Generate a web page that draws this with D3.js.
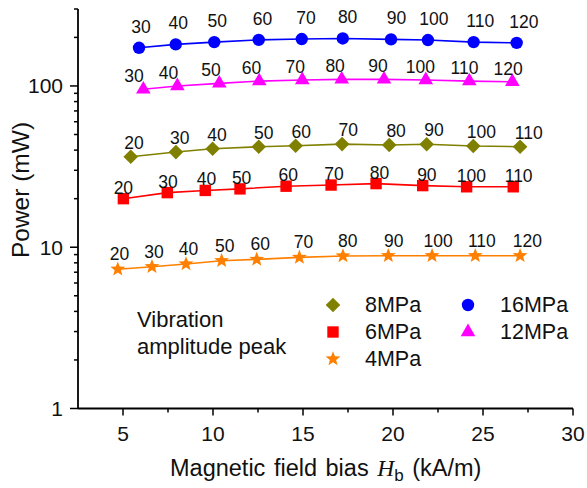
<!DOCTYPE html>
<html>
<head>
<meta charset="utf-8">
<script src="https://cdn.jsdelivr.net/npm/d3@7"></script>
<style>
html,body{margin:0;padding:0;background:#fff;}
svg{display:block;font-family:"Liberation Sans",Arial,sans-serif;}
</style>
</head>
<body>
<svg id="chart" width="587" height="488"></svg>
<script>
// ---- data ----
const xTicks = [5, 10, 15, 20, 25, 30];
const yTicks = [1, 10, 100];

const x16 = [5.89, 7.93, 10.07, 12.54, 14.93, 17.21, 19.89, 21.94, 24.48, 26.87];
const p16 = [172.5, 181, 187, 193, 195.4, 197, 194.5, 192.6, 187, 185];
const l16 = [30, 40, 50, 60, 70, 80, 90, 100, 110, 120];

const x12 = [6.13, 8.02, 10.35, 12.57, 14.96, 17.15, 19.5, 21.82, 24.24, 26.63];
const p12 = [95.3, 100, 103.8, 107.2, 108.8, 109.9, 109.9, 108.8, 107.2, 106.2];
const l12 = [30, 40, 50, 60, 70, 80, 90, 100, 110, 120];

const x8 = [5.43, 7.94, 9.98, 12.54, 14.59, 17.17, 19.79, 21.87, 24.46, 27.06];
const p8 = [36.4, 38.9, 40.8, 42.0, 42.6, 43.6, 43.0, 43.5, 42.4, 42.0];
const l8 = [20, 30, 40, 50, 60, 70, 80, 90, 100, 110];

const x6 = [5.02, 7.46, 9.57, 11.5, 14.06, 16.56, 19.06, 21.65, 24.09, 26.68];
const p6 = [20.0, 21.8, 22.5, 23.0, 23.9, 24.3, 24.8, 24.1, 23.7, 23.7];
const l6 = [20, 30, 40, 50, 60, 70, 80, 90, 100, 110];

const x4 = [4.71, 6.61, 8.5, 10.48, 12.43, 14.8, 17.22, 19.74, 22.17, 24.57, 27.06];
const p4 = [7.30, 7.57, 7.87, 8.25, 8.41, 8.65, 8.82, 8.86, 8.86, 8.86, 8.86];
const l4 = [20, 30, 40, 50, 60, 70, 80, 90, 100, 110, 120];

// ---- symbols ----
function circlePath(r){return `M${r},0A${r},${r},0,1,1,${-r},0A${r},${r},0,1,1,${r},0Z`;}
function squarePath(r){return `M${-r},${-r}H${r}V${r}H${-r}Z`;}
function diamondPath(r){return `M0,${-r}L${r},0L0,${r}L${-r},0Z`;}
function trianglePath(r){const h=r*Math.sqrt(3);return `M0,${-h*2/3}L${r},${h/3}L${-r},${h/3}Z`;}
function starPath(r){
  const ri=r*0.42; let s="";
  for(let i=0;i<10;i++){const a=-Math.PI/2+i*Math.PI/5;const rr=i%2?ri:r;
    s+=(i?"L":"M")+(rr*Math.cos(a)).toFixed(2)+","+(rr*Math.sin(a)).toFixed(2);}
  return s+"Z";
}

const series = [
  {name:"16MPa", xs:x16, ys:p16, labels:l16, color:"#0000FF", sym:()=>circlePath(6.2), dx:1.8, dy:-15},
  {name:"12MPa", xs:x12, ys:p12, labels:l12, color:"#FF00FF", sym:()=>trianglePath(7.3), dx:-9.6, dy:-7},
  {name:"8MPa",  xs:x8,  ys:p8,  labels:l8,  color:"#808000", sym:()=>diamondPath(7.3), dx:3.2, dy:-8},
  {name:"6MPa",  xs:x6,  ys:p6,  labels:l6,  color:"#FF0000", sym:()=>squarePath(5.7), dx:0, dy:-5},
  {name:"4MPa",  xs:x4,  ys:p4,  labels:l4,  color:"#FF8000", sym:()=>starPath(7.8), dx:1.7, dy:-9}
];

// ---- scales ----
const svg = d3.select("#chart");
const x = d3.scaleLinear().domain([2.5, 30]).range([78, 573]);
const y = d3.scaleLog().domain([1, 300]).range([408.5, 9]);

const axisColor = "#000";
const textColor = "#111";

// x axis
const gx = svg.append("g").attr("transform","translate(0,408.5)");
gx.append("line").attr("x1",x(2.5)).attr("x2",x(30)).attr("stroke",axisColor).attr("stroke-width",1.8);
const xMinor = d3.range(7.5, 30, 5);
gx.selectAll(".xmin").data(xMinor).join("line")
  .attr("x1",d=>x(d)).attr("x2",d=>x(d)).attr("y1",0).attr("y2",4)
  .attr("stroke",axisColor).attr("stroke-width",1.5);
gx.selectAll(".xmaj").data(xTicks).join("line")
  .attr("x1",d=>x(d)).attr("x2",d=>x(d)).attr("y1",0).attr("y2",7)
  .attr("stroke",axisColor).attr("stroke-width",1.5);
gx.selectAll(".xlab").data(xTicks).join("text")
  .attr("x",d=>x(d)).attr("y",32).attr("text-anchor","middle")
  .attr("font-size",21).attr("fill",textColor).text(d=>d);

// y axis
const gy = svg.append("g").attr("transform","translate(78,0)");
gy.append("line").attr("y1",y(1)).attr("y2",y(300)).attr("stroke",axisColor).attr("stroke-width",1.8);
const yMinor = [];
[1,10,100].forEach(dec=>{for(let k=2;k<=9;k++){const v=dec*k; if(v<=300) yMinor.push(v);}});
gy.selectAll(".ymin").data(yMinor).join("line")
  .attr("x1",-4).attr("x2",0).attr("y1",d=>y(d)).attr("y2",d=>y(d))
  .attr("stroke",axisColor).attr("stroke-width",1.5);
gy.selectAll(".ymaj").data(yTicks).join("line")
  .attr("x1",-8).attr("x2",0).attr("y1",d=>y(d)).attr("y2",d=>y(d))
  .attr("stroke",axisColor).attr("stroke-width",1.5);
gy.selectAll(".ylab").data(yTicks).join("text")
  .attr("x",-15).attr("y",d=>y(d)+7.5).attr("text-anchor","end")
  .attr("font-size",21).attr("fill",textColor).text(d=>d);

// axis titles
const xt = svg.append("text").attr("x",170).attr("y",476).attr("text-anchor","start")
  .attr("font-size",23.5).attr("fill",textColor).style("word-spacing","2px");
xt.append("tspan").text("Magnetic field bias ");
xt.append("tspan").attr("font-family","'Liberation Serif','Times New Roman',serif").attr("font-style","italic").text("H");
xt.append("tspan").attr("font-size",17).attr("dy",5).text("b");
xt.append("tspan").attr("dy",-5).text(" (kA/m)");

svg.append("text").attr("transform","translate(29,190) rotate(-90)")
  .attr("text-anchor","middle").attr("font-size",24.5).attr("fill",textColor).text("Power (mW)");

// series
const line = d3.line().x(d=>x(d[0])).y(d=>y(d[1]));
series.forEach(s=>{
  const pts = s.xs.map((v,i)=>[v, s.ys[i], s.labels[i]]);
  const g = svg.append("g");
  g.append("path").datum(pts).attr("d",line).attr("fill","none")
    .attr("stroke",s.color).attr("stroke-width",1.6);
  g.selectAll("path.m").data(pts).join("path").attr("class","m")
    .attr("transform",d=>`translate(${x(d[0])},${y(d[1])})`)
    .attr("d",s.sym()).attr("fill",s.color);
  g.selectAll("text").data(pts).join("text")
    .attr("x",d=>x(d[0])+s.dx+0.25*(d[0]-5)).attr("y",d=>y(d[1])+s.dy)
    .attr("text-anchor","middle").attr("font-size",17.5).attr("fill",textColor)
    .text(d=>d[2]);
});

// annotation
svg.append("text").attr("x",137).attr("y",327).attr("font-size",22).attr("fill",textColor).text("Vibration");
svg.append("text").attr("x",137).attr("y",353.5).attr("font-size",22).attr("fill",textColor).text("amplitude peak");

// legend
const legendItems = [
  {s:series[2], lx:333, ly:305},
  {s:series[3], lx:333, ly:332},
  {s:series[4], lx:333, ly:359},
  {s:series[0], lx:468, ly:305},
  {s:series[1], lx:468, ly:332}
];
legendItems.forEach(it=>{
  svg.append("path").attr("transform",`translate(${it.lx},${it.ly})`).attr("d",it.s.sym()).attr("fill",it.s.color);
  svg.append("text").attr("x",it.lx+32).attr("y",it.ly+7).attr("font-size",21.5).attr("fill",textColor).text(it.s.name);
});
</script>
</body>
</html>
